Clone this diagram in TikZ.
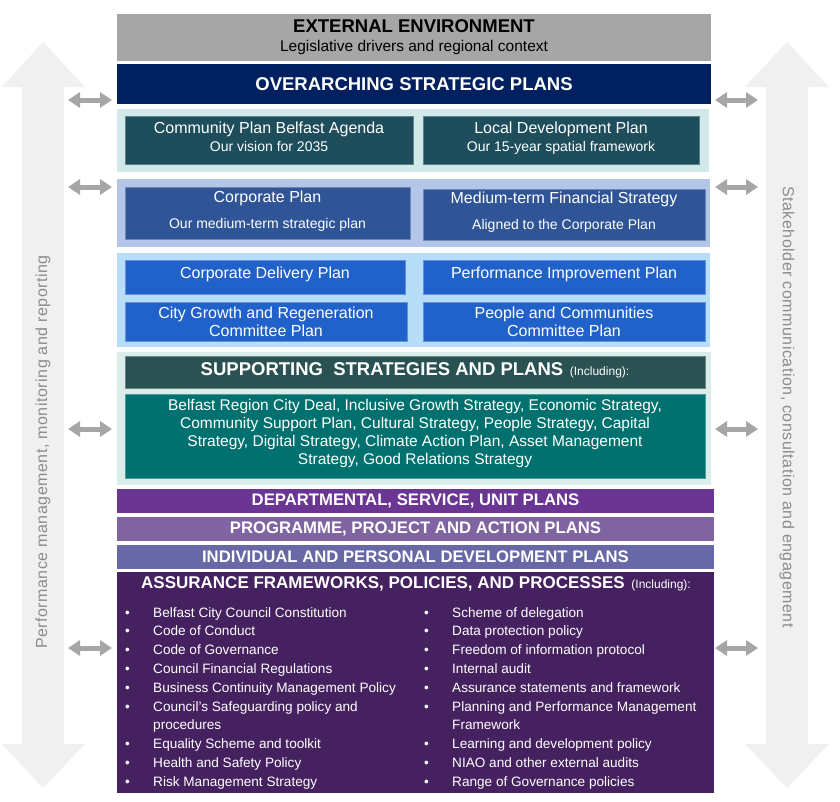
\documentclass[tikz,border=0pt]{standalone}
\usepackage{fontspec}
\setmainfont{Liberation Sans}
\newfontfamily\sidefont[LetterSpace=3.2]{Liberation Sans}
\usetikzlibrary{arrows.meta,positioning}
\definecolor{sidefill}{HTML}{F0F0F0}
\definecolor{sidetext}{HTML}{8C8C8C}
\definecolor{dblgray}{HTML}{A6A6A6}
\definecolor{envgray}{HTML}{A6A6A6}
\definecolor{navy}{HTML}{002060}
\definecolor{panA}{HTML}{D2E9E9}
\definecolor{tealbox}{HTML}{1E4D5C}
\definecolor{panB}{HTML}{B4C6E7}
\definecolor{corpblue}{HTML}{2F5597}
\definecolor{panC}{HTML}{B7DDF8}
\definecolor{royal}{HTML}{2162CA}
\definecolor{panD}{HTML}{DAEDEB}
\definecolor{suphead}{HTML}{2A5252}
\definecolor{supbody}{HTML}{00716E}
\definecolor{dept}{HTML}{6B3594}
\definecolor{prog}{HTML}{8064A2}
\definecolor{indiv}{HTML}{6868A6}
\definecolor{assur}{HTML}{45215F}
\newcommand{\pxfont}[2]{\fontsize{#1}{#2}\selectfont}
\newcommand{\incl}{{\pxfont{12}{12}\mdseries\ \ (Including):}}

\begin{document}
\begin{tikzpicture}[x=1pt,y=-1pt,
  panel/.style={rectangle,inner sep=0pt,outer sep=0pt},
  plan/.style={rectangle,inner sep=0pt,text=white,align=center,draw=#1!70!white,line width=0.8pt,font=\pxfont{16}{18}},
  band/.style={rectangle,inner sep=0pt,text=white,minimum width=597pt,minimum height=24pt,font=\pxfont{16.7}{18}\bfseries},
  sidetxt/.style={text=sidetext,inner sep=0pt,font=\sidefont\pxfont{16}{18}},
  twoway/.style={{Triangle[width=15pt,length=12pt]}-{Triangle[width=15pt,length=12pt]},line width=5pt,draw=dblgray},
  bullets/.style={anchor=base west,inner sep=0pt,text=white,font=\pxfont{13.6}{18.8}}]
\useasboundingbox (0,0) rectangle (840,801);
% side arrows
\fill[sidefill] (43,42) -- (85,87) -- (64,87) -- (64,744) -- (85,744) -- (43,788) -- (2,744) -- (22,744) -- (22,87) -- (2,87) -- cycle;
\fill[sidefill] (787,42) -- (829,87) -- (808,87) -- (808,744) -- (829,744) -- (787,788) -- (745,744) -- (766,744) -- (766,87) -- (745,87) -- cycle;
\node (perf) [sidetxt,rotate=90] at (43,452) {Performance management, monitoring and reporting};
\node (stake) [sidetxt,rotate=-90] at (787,407) {Stakeholder communication, consultation and engagement};
%
\node (env) [panel,fill=envgray,minimum width=594pt,minimum height=47pt,align=center,font=\pxfont{15.5}{19}] at (414,37.5) {{\pxfont{18.5}{19}\bfseries EXTERNAL ENVIRONMENT}\\Legislative drivers and regional context};
\node (ovr) [panel,fill=navy,text=white,minimum width=594pt,minimum height=40pt,font=\pxfont{18.5}{20}\bfseries] at (414,84) {OVERARCHING STRATEGIC PLANS};
%
\node (panA) [panel,fill=panA,minimum width=592pt,minimum height=63pt] at (413,140.5) {};
\node (cpb) [plan=tealbox,fill=tealbox,minimum width=288pt,minimum height=48pt,text depth=7pt] at (269,140) {Community Plan Belfast Agenda\\{\pxfont{14}{18}Our vision for 2035}};
\node (ldp) [plan=tealbox,fill=tealbox,minimum width=276pt,minimum height=48pt,text depth=7pt] at (561,140) {Local Development Plan\\{\pxfont{14}{18}Our 15-year spatial framework}};
%
\node (panB) [panel,fill=panB,minimum width=593pt,minimum height=68pt] at (413.5,213) {};
\node (corp) [plan=corpblue,fill=corpblue,minimum width=285pt,minimum height=52pt,text depth=7pt] at (267.5,213) {Corporate Plan\\[8pt]{\pxfont{14}{18}Our medium-term strategic plan}};
\node (mtfs) [plan=corpblue,fill=corpblue,minimum width=282pt,minimum height=51pt,text depth=7pt] at (564,214.5) {Medium-term Financial Strategy\\[8pt]{\pxfont{14}{18}Aligned to the Corporate Plan}};
%
\node (panC) [panel,fill=panC,minimum width=593pt,minimum height=94pt] at (413.5,300) {};
\node (cdp) [plan=royal,fill=royal,minimum width=280pt,minimum height=34pt,text depth=8pt] at (265,277) {Corporate Delivery Plan};
\node (pip) [plan=royal,fill=royal,minimum width=282pt,minimum height=34pt,text depth=8pt] at (564,277) {Performance Improvement Plan};
\node (cgr) [plan=royal,fill=royal,minimum width=282pt,minimum height=39pt] at (266,321.5) {City Growth and Regeneration\\Committee Plan};
\node (pcc) [plan=royal,fill=royal,minimum width=282pt,minimum height=39pt] at (564,321.5) {People and Communities\\Committee Plan};
%
\node (panD) [panel,fill=panD,minimum width=594pt,minimum height=133pt] at (414,418.5) {};
\node (suph) [plan=suphead,fill=suphead,minimum width=580pt,minimum height=32pt,font=\pxfont{18.5}{20}\bfseries,text depth=6pt] at (415,372) {SUPPORTING\ \ STRATEGIES AND PLANS\incl};
\node (supb) [plan=supbody,fill=supbody,minimum width=580pt,minimum height=84pt,font=\pxfont{15.5}{18},text depth=8pt] at (415,436) {Belfast Region City Deal, Inclusive Growth Strategy, Economic Strategy,\\Community Support Plan, Cultural Strategy, People Strategy, Capital\\Strategy, Digital Strategy, Climate Action Plan, Asset Management\\Strategy, Good Relations Strategy};
%
\node (dept) [band,fill=dept] at (415.5,501) {DEPARTMENTAL, SERVICE, UNIT PLANS};
\node (prog) [band,fill=prog] at (415.5,529) {PROGRAMME, PROJECT AND ACTION PLANS};
\node (indiv) [band,fill=indiv] at (415.5,557) {INDIVIDUAL AND PERSONAL DEVELOPMENT PLANS};
\node (assur) [panel,fill=assur,minimum width=597pt,minimum height=221pt] at (415.5,682.5) {};
\node (assurt) [text=white,inner sep=0pt,font=\pxfont{17}{20}\bfseries] at (416,584) {ASSURANCE FRAMEWORKS, POLICIES, AND PROCESSES\incl};
\node (listl) [bullets] at (125,617) {\begin{tabular}[t]{@{}p{28pt}@{}l@{}}
\textbullet & Belfast City Council Constitution\\
\textbullet & Code of Conduct\\
\textbullet & Code of Governance\\
\textbullet & Council Financial Regulations\\
\textbullet & Business Continuity Management Policy\\
\textbullet & Council’s Safeguarding policy and\\
 & procedures\\
\textbullet & Equality Scheme and toolkit\\
\textbullet & Health and Safety Policy\\
\textbullet & Risk Management Strategy
\end{tabular}};
\node (listr) [bullets] at (424,617) {\begin{tabular}[t]{@{}p{28pt}@{}l@{}}
\textbullet & Scheme of delegation\\
\textbullet & Data protection policy\\
\textbullet & Freedom of information protocol\\
\textbullet & Internal audit\\
\textbullet & Assurance statements and framework\\
\textbullet & Planning and Performance Management\\
 & Framework\\
\textbullet & Learning and development policy\\
\textbullet & NIAO and other external audits\\
\textbullet & Range of Governance policies
\end{tabular}};
% two-way links
\foreach \y/\n in {100/1,187/2,429/3,648/4}{
  \coordinate (ll\n) at (68,\y);
  \coordinate (lr\n) at (112,\y);
  \coordinate (rl\n) at (715,\y);
  \coordinate (rr\n) at (758,\y);
  \draw[twoway] (ll\n) -- (lr\n);
  \draw[twoway] (rl\n) -- (rr\n);
}
\end{tikzpicture}
\end{document}
